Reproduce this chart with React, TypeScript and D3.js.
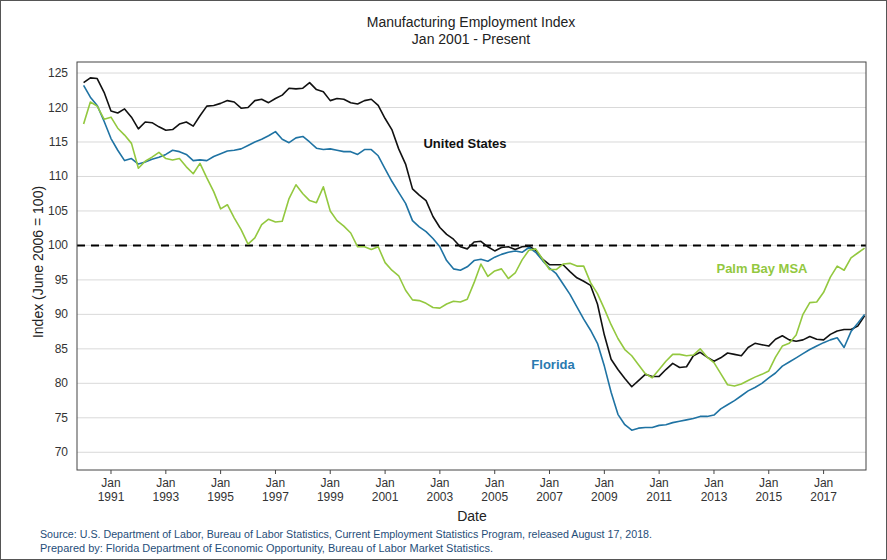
import React from 'react';
import * as d3 from 'd3';

// quarterly readings, Jan 1990 .. Jul 2018 (one row per year)
const unitedStates: number[] = [
  123.6, 124.3, 124.2, 122.2,
  119.5, 119.2, 119.8, 118.6,
  116.9, 117.9, 117.8, 117.2,
  116.7, 116.8, 117.6, 117.9,
  117.3, 118.8, 120.2, 120.3,
  120.6, 121.0, 120.8, 119.9,
  120.0, 121.0, 121.2, 120.7,
  121.3, 121.8, 122.8, 122.7,
  122.8, 123.6, 122.6, 122.3,
  121.0, 121.3, 121.2, 120.7,
  120.5, 121.0, 121.2, 120.3,
  118.4, 116.8, 114.0, 111.8,
  108.2, 107.3, 106.5, 104.2,
  102.6, 101.6, 100.9, 99.8,
  99.5, 100.5, 100.6, 99.8,
  99.2, 99.7, 99.8, 99.4,
  99.8, 99.9, 99.3, 98.0,
  97.2, 97.2, 97.2, 96.2,
  95.3, 94.8, 94.2, 91.5,
  87.0, 83.5, 82.0, 80.7,
  79.5, 80.4, 81.3, 81.0,
  81.0, 82.0, 82.9, 82.3,
  82.4, 84.0, 84.5, 83.8,
  83.2, 83.7, 84.4, 84.2,
  84.0, 85.2, 85.8, 85.6,
  85.4, 86.4, 86.9, 86.3,
  86.1, 86.3, 86.8, 86.4,
  86.3, 87.1, 87.6, 87.8,
  87.8, 88.3, 89.8,
];

const florida: number[] = [
  123.2, 121.5, 120.3, 118.0,
  115.5, 113.8, 112.3, 112.6,
  111.8, 112.1, 112.5, 112.8,
  113.2, 113.8, 113.6, 113.2,
  112.3, 112.4, 112.3, 112.9,
  113.3, 113.7, 113.8, 114.0,
  114.5, 115.0, 115.4, 115.9,
  116.5, 115.4, 114.9, 115.6,
  115.8, 115.0, 114.1, 113.9,
  114.0, 113.8, 113.6, 113.6,
  113.2, 113.9, 113.9, 113.0,
  111.1, 109.3, 107.7, 106.1,
  103.6, 102.7, 102.0, 101.0,
  99.8, 97.8, 96.6, 96.4,
  96.9, 97.8, 98.0, 97.7,
  98.3, 98.7, 99.0, 99.2,
  99.0, 99.7, 99.0, 97.8,
  96.7, 95.9, 94.4, 92.9,
  91.1, 89.3, 87.7, 85.8,
  82.5, 78.7, 75.5, 74.0,
  73.2, 73.5, 73.6, 73.6,
  73.9, 74.0, 74.3, 74.5,
  74.7, 74.9, 75.2, 75.2,
  75.4, 76.3, 76.9, 77.5,
  78.2, 78.9, 79.4, 80.0,
  80.8, 81.5, 82.5, 83.1,
  83.7, 84.3, 84.9, 85.4,
  85.9, 86.3, 86.6, 85.2,
  87.5, 88.7, 90.0,
];

const palmBay: number[] = [
  117.6, 120.8, 120.2, 118.3,
  118.6, 117.0, 116.0, 114.8,
  111.2, 112.2, 112.8, 113.5,
  112.6, 112.4, 112.6, 111.4,
  110.4, 111.9, 109.8, 107.8,
  105.3, 105.9, 104.0, 102.3,
  100.2, 101.1, 103.0, 103.8,
  103.4, 103.5, 106.8, 108.8,
  107.5, 106.5, 106.2, 108.5,
  105.0, 103.6, 102.8, 101.8,
  99.8, 99.8, 99.4, 99.8,
  97.5, 96.4, 95.6, 93.5,
  92.1, 92.0, 91.6, 91.0,
  90.9, 91.5, 91.9, 91.8,
  92.2, 94.6, 97.3, 95.5,
  96.3, 96.6, 95.2, 96.0,
  97.9, 99.3, 99.5, 98.0,
  96.5, 96.5, 97.3, 97.4,
  97.0, 97.0, 94.6, 93.0,
  90.8, 88.5, 86.5, 84.9,
  84.0, 82.7, 81.4, 80.8,
  82.0, 83.2, 84.2, 84.2,
  84.0, 84.1, 85.0, 83.8,
  83.0, 81.4, 79.8, 79.6,
  79.9, 80.4, 80.9, 81.3,
  81.8, 83.8, 85.4, 85.8,
  87.0, 90.0, 91.7, 91.8,
  93.2, 95.4, 97.0, 96.4,
  98.2, 98.9, 99.6,
];

const dates: Date[] = d3.timeMonth.range(new Date(1990, 0, 1), new Date(2018, 7, 1), 3);
const yTicks = [70, 75, 80, 85, 90, 95, 100, 105, 110, 115, 120, 125];
const xTickYears = [1991, 1993, 1995, 1997, 1999, 2001, 2003, 2005, 2007, 2009, 2011, 2013, 2015, 2017];

const series = [
  { name: 'United States', values: unitedStates, color: '#111111', label: { x: 465, y: 148 }, labelColor: '#111111' },
  { name: 'Florida', values: florida, color: '#1f73a3', label: { x: 553, y: 369 }, labelColor: '#2a7ab0' },
  { name: 'Palm Bay MSA', values: palmBay, color: '#93c83f', label: { x: 762, y: 273 }, labelColor: '#93c83f' },
];

const W = 887;
const H = 560;
const margin = { top: 62, right: 21, bottom: 90, left: 77 };
const font = 'Arial, "Liberation Sans", sans-serif';

const App: React.FC = () => {
  const x = d3.scaleTime()
    .domain([new Date(1989, 9, 5), new Date(2018, 6, 20)])
    .range([margin.left, W - margin.right]);
  const y = d3.scaleLinear()
    .domain([67.43, 126.6])
    .range([H - margin.bottom, margin.top]);

  const line = d3.line<number>()
    .x((_, i) => x(dates[i]))
    .y(d => y(d));

  const x0 = margin.left;
  const x1 = W - margin.right;
  const y0 = H - margin.bottom;

  return (
    <svg width={W} height={H} style={{ position: 'absolute', left: 0, top: 0, background: '#fff' }} fontFamily={font}>
      <rect x={0.5} y={0.5} width={W - 1} height={H - 1} fill="#fff" stroke="#555" />

      {/* title */}
      <text x={471} y={27} textAnchor="middle" fontSize={14} fill="#222">Manufacturing Employment Index</text>
      <text x={471} y={44} textAnchor="middle" fontSize={14} fill="#222">Jan 2001 - Present</text>

      {/* grid */}
      {yTicks.map(t => (
        <g key={t}>
          <line x1={x0} x2={x1} y1={y(t)} y2={y(t)} stroke="#d9d9d9" strokeWidth={1} />
          <text x={x0 - 9} y={y(t) + 4} textAnchor="end" fontSize={12} fill="#333">{t}</text>
        </g>
      ))}

      {/* reference line at 100 */}
      <line x1={x0} x2={x1} y1={y(100)} y2={y(100)} stroke="#000" strokeWidth={2} strokeDasharray="8,6" />

      {/* series */}
      {series.map(s => (
        <path key={s.name} d={line(s.values) ?? ''} fill="none" stroke={s.color} strokeWidth={1.6} strokeLinejoin="round" />
      ))}
      {series.map(s => (
        <text key={s.name + '-l'} x={s.label.x} y={s.label.y} textAnchor="middle" fontSize={13} fontWeight="bold" fill={s.labelColor}>{s.name}</text>
      ))}

      {/* plot frame */}
      <rect x={x0} y={margin.top} width={x1 - x0} height={y0 - margin.top} fill="none" stroke="#444" strokeWidth={1} />

      {/* x ticks */}
      {xTickYears.map(yr => {
        const px = x(new Date(yr, 0, 1));
        return (
          <g key={yr}>
            <line x1={px} x2={px} y1={y0} y2={y0 + 4} stroke="#444" />
            <text x={px} y={y0 + 17} textAnchor="middle" fontSize={12} fill="#333">Jan</text>
            <text x={px} y={y0 + 31} textAnchor="middle" fontSize={12} fill="#333">{yr}</text>
          </g>
        );
      })}

      {/* axis titles */}
      <text x={472} y={521} textAnchor="middle" fontSize={14} fill="#222">Date</text>
      <text transform="translate(43,262) rotate(-90)" textAnchor="middle" fontSize={14} fill="#222">Index (June 2006 = 100)</text>

      {/* source */}
      <text x={40} y={538} fontSize={10} fill="#1f4e79" textLength={612} lengthAdjust="spacingAndGlyphs">Source:  U.S. Department of Labor, Bureau of Labor Statistics, Current Employment Statistics Program, released August 17, 2018.</text>
      <text x={40} y={552} fontSize={10} fill="#1f4e79" textLength={453} lengthAdjust="spacingAndGlyphs">Prepared by:  Florida Department of Economic Opportunity, Bureau of Labor Market Statistics.</text>
    </svg>
  );
};

export default App;
